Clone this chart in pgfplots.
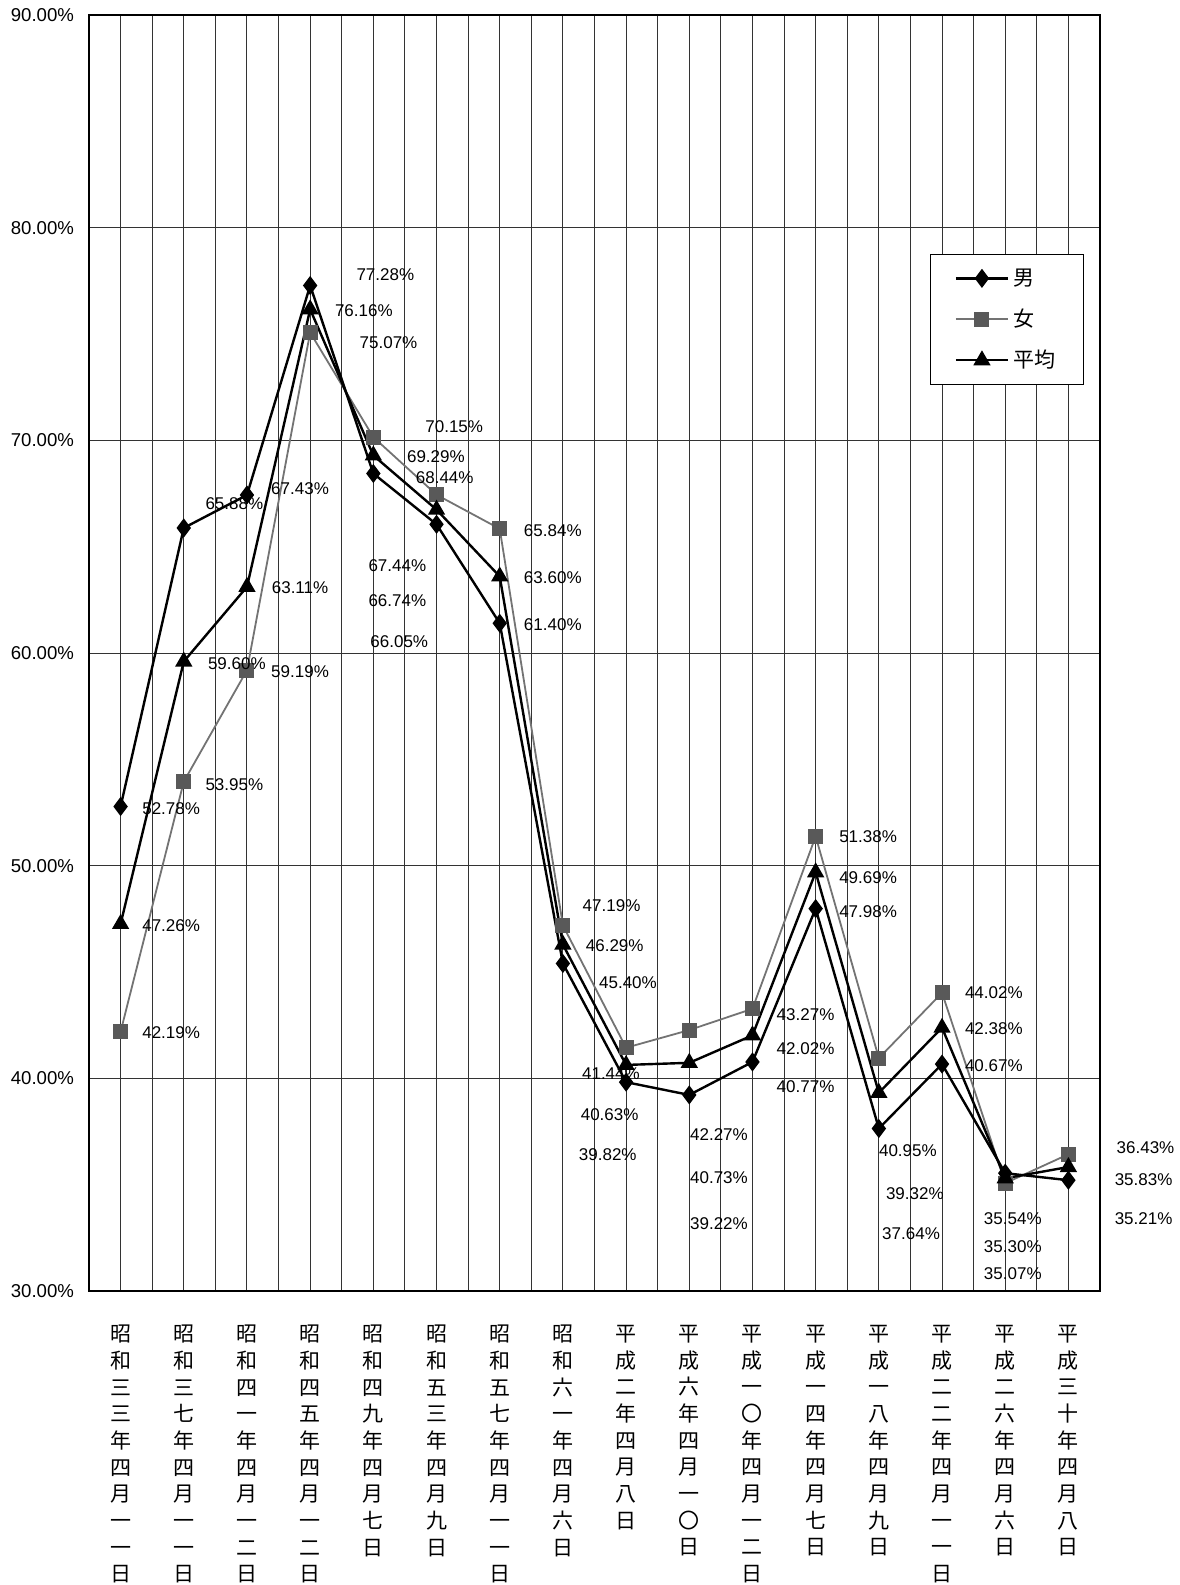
\documentclass[border=0pt]{standalone}
\usepackage{pgfplots}
\usepackage{pgfplotstable}
\pgfplotsset{compat=1.18}
\usepackage{fontspec}
\setmainfont{Liberation Sans}
\newfontfamily\jp{Noto Sans CJK JP}

% 男, 女, 平均 (%)
\pgfplotstableread{
x m f a
0 52.78 42.19 47.26
1 65.88 53.95 59.60
2 67.43 59.19 63.11
3 77.28 75.07 76.16
4 68.44 70.15 69.29
5 66.05 67.44 66.74
6 61.40 65.84 63.60
7 45.40 47.19 46.29
8 39.82 41.44 40.63
9 39.22 42.27 40.73
10 40.77 43.27 42.02
11 47.98 51.38 49.69
12 37.64 40.95 39.32
13 40.67 44.02 42.38
14 35.54 35.07 35.30
15 35.21 36.43 35.83
}\data

% where each value label sits
\pgfplotstableread{
x y t
0.80 52.68 52.78
0.80 42.13 42.19
0.80 47.17 47.26
1.80 67.04 65.88
1.80 53.82 53.95
1.84 59.48 59.60
2.84 67.71 67.43
2.84 63.05 63.11
2.84 59.10 59.19
4.19 77.79 77.28
3.85 76.08 76.16
4.24 74.60 75.07
5.28 70.66 70.15
4.99 69.23 69.29
5.13 68.23 68.44
4.38 64.09 67.44
4.38 62.48 66.74
4.41 60.53 66.05
6.84 65.76 65.84
6.84 63.52 63.60
6.84 61.34 61.40
7.77 48.12 47.19
7.82 46.22 46.29
8.03 44.50 45.40
7.76 40.22 41.44
7.74 38.27 40.63
7.71 36.42 39.82
9.47 37.37 42.27
9.47 35.33 40.73
9.47 33.19 39.22
10.84 42.98 43.27
10.84 41.38 42.02
10.84 39.59 40.77
11.83 51.35 51.38
11.83 49.45 49.69
11.83 47.85 47.98
12.46 36.61 40.95
12.57 34.56 39.32
12.51 32.71 37.64
13.82 44.01 44.02
13.82 42.32 42.38
13.82 40.58 40.67
14.12 33.42 35.54
14.12 32.09 35.30
14.12 30.81 35.07
16.22 36.75 36.43
16.19 35.23 35.83
16.19 33.42 35.21
}\labels

\begin{document}
\begin{tikzpicture}
\begin{axis}[
    name=ax,
    scale only axis,
    width=505.5pt, height=638pt,
    xmin=-0.5, xmax=15.5,
    ymin=30, ymax=90,
    clip=false,
    xtick={0,...,15},
    minor x tick num=1,
    ytick={30,40,...,90},
    yticklabels={30.00\%,40.00\%,50.00\%,60.00\%,70.00\%,80.00\%,90.00\%},
    xticklabels={
      {昭\\和\\三\\三\\年\\四\\月\\一\\一\\日},
      {昭\\和\\三\\七\\年\\四\\月\\一\\一\\日},
      {昭\\和\\四\\一\\年\\四\\月\\一\\二\\日},
      {昭\\和\\四\\五\\年\\四\\月\\一\\二\\日},
      {昭\\和\\四\\九\\年\\四\\月\\七\\日},
      {昭\\和\\五\\三\\年\\四\\月\\九\\日},
      {昭\\和\\五\\七\\年\\四\\月\\一\\一\\日},
      {昭\\和\\六\\一\\年\\四\\月\\六\\日},
      {平\\成\\二\\年\\四\\月\\八\\日},
      {平\\成\\六\\年\\四\\月\\一\\〇\\日},
      {平\\成\\一\\〇\\年\\四\\月\\一\\二\\日},
      {平\\成\\一\\四\\年\\四\\月\\七\\日},
      {平\\成\\一\\八\\年\\四\\月\\九\\日},
      {平\\成\\二\\二\\年\\四\\月\\一\\一\\日},
      {平\\成\\二\\六\\年\\四\\月\\六\\日},
      {平\\成\\三\\十\\年\\四\\月\\八\\日}},
    xticklabel style={font=\jp\fontsize{10.5}{13.35}\selectfont, align=center, anchor=north, yshift=-13.5pt},
    yticklabel style={font=\fontsize{9.3}{11}\selectfont, xshift=-4pt},
    major tick length=0pt, minor tick length=0pt,
    xmajorgrids, xminorgrids, ymajorgrids,
    major grid style={black!80, line width=0.5pt},
    minor grid style={black!80, line width=0.5pt},
    axis line style={line width=1pt},
    legend style={at={(0.832,0.8127)}, anchor=north west, draw=black, line width=0.6pt,
      font=\jp\fontsize{10.5}{12}\selectfont, inner xsep=12pt, inner ysep=5pt, row sep=6.3pt},
    legend cell align=left,
    /tikz/every even column/.append style={column sep=3pt},
    legend image code/.code={\draw[mark repeat=2,mark phase=2,#1] plot coordinates {(0pt,0pt) (13pt,0pt) (26pt,0pt)};},
  ]
\addplot[black, line width=1.2pt, mark=diamond*, mark size=3.8pt, mark options={solid, fill=black}] table[x=x,y=m] {\data};
\addlegendentry{男}
\addplot[black!55, line width=0.9pt, mark=square*, mark size=3.3pt, mark options={solid, fill=black!65, draw=black!65}] table[x=x,y=f] {\data};
\addlegendentry{女}
\addplot[black, line width=1.2pt, mark=triangle*, mark size=3.8pt, mark options={solid, fill=black}] table[x=x,y=a] {\data};
\addlegendentry{平均}
\addplot[draw=none, forget plot, point meta=explicit symbolic,
  nodes near coords={\pgfplotspointmeta\%},
  every node near coord/.append style={anchor=center, font=\fontsize{8.5}{10}\selectfont, inner sep=0pt}]
  table[x=x,y=y,meta=t] {\labels};
\end{axis}
\pgfresetboundingbox
\path[use as bounding box] ([xshift=-44.5pt,yshift=-147pt]ax.south west) rectangle ([xshift=545pt,yshift=645.5pt]ax.south west);
\end{tikzpicture}
\end{document}
